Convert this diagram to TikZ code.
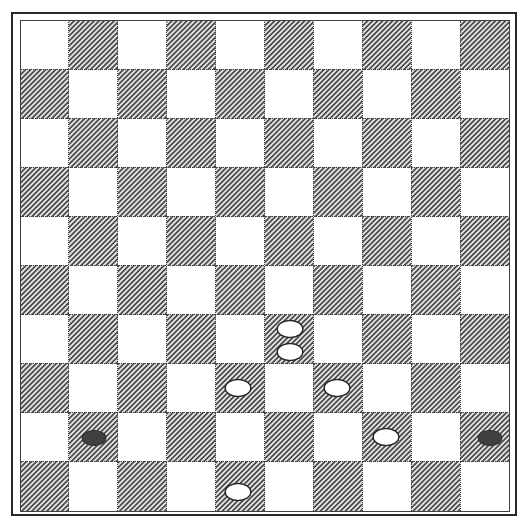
\documentclass[tikz,border=0pt]{standalone}
\usetikzlibrary{shapes.geometric}
\begin{document}
\begin{tikzpicture}[x=1pt,y=-1pt,
  whitepiece/.style={ellipse,draw=black!85,line width=1.3pt,fill=white,minimum width=26pt,minimum height=17pt,inner sep=0pt},
  blackpiece/.style={ellipse,draw=black!80,line width=1pt,fill=black!75,minimum width=24pt,minimum height=15pt,inner sep=0pt},
  hatch/.style={black!70,line width=1.6pt},
  darkedge/.style={black!75,line width=1pt,densely dotted},
  outerframe/.style={draw=black!85,line width=2pt},
  innerframe/.style={draw=black!75,line width=0.9pt}]
\useasboundingbox (0,0) rectangle (520,522);
\fill[white] (0,0) rectangle (520,522);
\def\sx{48.9}
\def\sy{49.1}
\foreach \r in {0,...,9}{
  \foreach \c in {0,...,9}{
    \pgfmathtruncatemacro\oddsq{mod(\r+\c,2)}
    \ifnum\oddsq=1
      \pgfmathsetmacro\xa{20+\c*\sx}
      \pgfmathsetmacro\xb{20+(\c+1)*\sx}
      \pgfmathsetmacro\ya{20+\r*\sy}
      \pgfmathsetmacro\yb{20+(\r+1)*\sy}
      \fill[black!10] (\xa,\ya) rectangle (\xb,\yb);
      \begin{scope}
        \clip (\xa,\ya) rectangle (\xb,\yb);
        \foreach \k in {-55,-50,...,55}{
          \draw[hatch] (\xa+\k,\yb+2) -- ++(56,-56);
        }
      \end{scope}
      \draw[darkedge] (\xa,\ya) rectangle (\xb,\yb);
    \fi
  }
}
\draw[innerframe] (20,20) rectangle (509,511);
\draw[outerframe] (12,13) rectangle (516,515);
\node[whitepiece] (k1) at (290,329) {};
\node[whitepiece] (k2) at (290,352) {};
\node[whitepiece] (w1) at (238,388) {};
\node[whitepiece] (w2) at (337,388) {};
\node[whitepiece] (w3) at (386,437) {};
\node[whitepiece] (w4) at (238,492) {};
\node[blackpiece] (b1) at (94,438) {};
\node[blackpiece] (b2) at (490,438) {};
\end{tikzpicture}
\end{document}
